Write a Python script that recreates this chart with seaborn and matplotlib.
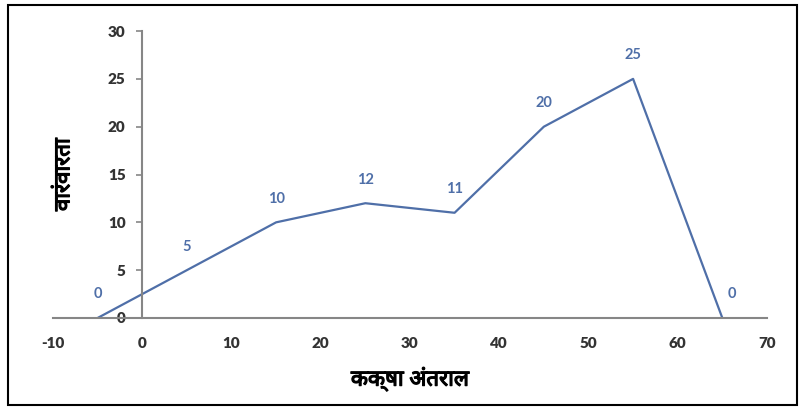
import matplotlib
matplotlib.use("Agg")
import matplotlib.pyplot as plt
import matplotlib.patheffects as pe
import seaborn as sns
from matplotlib.patches import Rectangle

# वर्ग मध्य और बारंबारता
class_mid = [-5, 5, 15, 25, 35, 45, 55, 65]
freq = [0, 5, 10, 12, 11, 20, 25, 0]
x_ticks = [-10, 0, 10, 20, 30, 40, 50, 60, 70]
y_ticks = [0, 5, 10, 15, 20, 25, 30]
x_title = "कक्षा अंतराल"
y_title = "वारंवारता"

sns.set_style("white")
plt.rcParams['font.family'] = ['Lato', 'DejaVu Sans']
plt.rcParams['axes.unicode_minus'] = False
deva = ['Noto Sans Devanagari', 'Lohit Devanagari', 'FreeSans', 'Noto Sans', 'DejaVu Sans']

line_col = "#4F6FA8"
axis_col = "#868686"
text_col = "#333333"

fig = plt.figure(figsize=(7.99, 4.07), dpi=100)
ax = fig.add_axes([0.0663, 0.2187, 0.8936, 0.705])

sns.lineplot(x=class_mid, y=freq, ax=ax, color=line_col, linewidth=1.6)

ax.set_xlim(-10, 70)
ax.set_ylim(0, 30)
ax.set_xticks(x_ticks)
ax.set_yticks(y_ticks)

# अक्ष शून्य पर
ax.spines['left'].set_position(('data', 0))
ax.spines['bottom'].set_position(('data', 0))
ax.spines['top'].set_visible(False)
ax.spines['right'].set_visible(False)
for s in ['left', 'bottom']:
    ax.spines[s].set_color(axis_col)
    ax.spines[s].set_linewidth(1.5)

ax.tick_params(axis='y', direction='out', length=4, width=1.2, color=axis_col, pad=8,
               labelsize=11, labelcolor=text_col, left=True)
ax.tick_params(axis='x', length=0, pad=14, labelsize=11, labelcolor=text_col, bottom=True)
for lab in ax.get_xticklabels() + ax.get_yticklabels():
    lab.set_fontweight('heavy')

# डेटा लेबल
for i, (xv, yv) in enumerate(zip(class_mid, freq)):
    dx = 7 if i == len(class_mid) - 1 else 0
    ax.annotate(str(yv), (xv, yv), xytext=(dx, 17), textcoords='offset points',
                ha='center', va='center', color=line_col, fontsize=10.5, fontweight='bold')

# बोल्ड जैसा दिखाने के लिए हल्का स्ट्रोक
bold_fx = [pe.withStroke(linewidth=0.9, foreground='black')]
ax.set_xlabel(x_title, fontsize=16, fontweight='bold', family=deva, color='black',
              path_effects=bold_fx)
ax.set_ylabel(y_title, fontsize=16, fontweight='bold', family=deva, color='black',
              path_effects=bold_fx)
ax.xaxis.set_label_coords(0.5, -0.17)
ax.yaxis.set_label_coords(0.03, 0.5)

fig.patches.append(Rectangle((0.01, 0.004), 0.987, 0.983, transform=fig.transFigure,
                             fill=False, edgecolor='black', linewidth=1.5))

fig.savefig("out.png", dpi=100)
